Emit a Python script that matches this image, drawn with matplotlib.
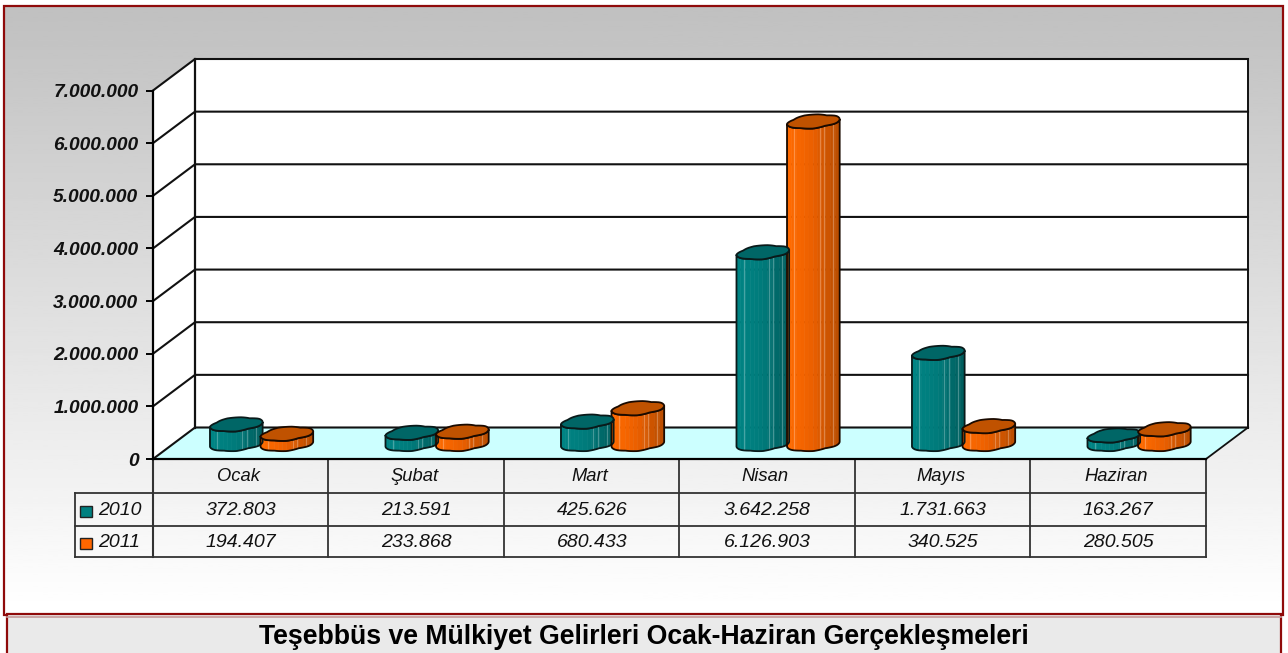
# -*- coding: utf-8 -*-
import numpy as np
import matplotlib
matplotlib.use('Agg')
import matplotlib.pyplot as plt
from matplotlib.patches import Polygon, Rectangle
from matplotlib.transforms import Affine2D, IdentityTransform

plt.rcParams['font.family'] = ['Liberation Sans', 'DejaVu Sans']

months = ['Ocak', 'Şubat', 'Mart', 'Nisan', 'Mayıs', 'Haziran']
years = ['2010', '2011']
values_2010 = [372803, 213591, 425626, 3642258, 1731663, 163267]
values_2011 = [194407, 233868, 680433, 6126903, 340525, 280505]
yticks = [0, 1000000, 2000000, 3000000, 4000000, 5000000, 6000000, 7000000]
title = 'Teşebbüs ve Mülkiyet Gelirleri Ocak-Haziran Gerçekleşmeleri'

W, H = 1288, 653
fig = plt.figure(figsize=(W / 100, H / 100), dpi=100)

# background layer in pixel coords (y down)
bg = fig.add_axes([0, 0, 1, 1])
bg.axis('off')

grad = np.linspace(0xc0, 0xff, 256).reshape(-1, 1) / 255.0
bg.imshow(grad, cmap='gray', vmin=0, vmax=1, extent=[4, 1283, 612, 6], aspect='auto', zorder=0)
bg.set_xlim(0, W)
bg.set_ylim(H, 0)
bg.add_patch(Rectangle((4, 6), 1279, 609, fill=False, ec='#8f0a0a', lw=1.6, zorder=1))
bg.add_patch(Rectangle((7, 614), 1274, 45, fc='#eaeaea', ec='#8f0a0a', lw=1.6, zorder=2))
bg.plot([7, 1281], [616.5, 616.5], color='#c49a9a', lw=1.2, zorder=3)
bg.text(644, 637, title, ha='center', va='center', fontsize=19.2, fontweight='bold', color='black', zorder=4)

# table
tx0, tx1, tx2 = 75, 153, 1206
ty0, ty1, ty2, ty3 = 459, 493, 526, 557
line_c = '#333333'
bg.plot([tx0, tx2], [ty1, ty1], color=line_c, lw=1.3)
bg.plot([tx0, tx2], [ty2, ty2], color=line_c, lw=1.3)
bg.plot([tx0, tx2], [ty3, ty3], color=line_c, lw=1.3)
bg.plot([tx0, tx0], [ty1, ty3], color=line_c, lw=1.3)
bg.plot([tx1, tx1], [ty0, ty3], color=line_c, lw=1.5)
cw = (tx2 - tx1) / len(months)
for i in range(1, len(months) + 1):
    bg.plot([tx1 + i * cw, tx1 + i * cw], [ty0, ty3], color=line_c, lw=1.3)
for i in range(len(months)):
    cx = tx1 + (i + 0.5) * cw
    bg.text(cx - 2, (ty0 + ty1) / 2 + 0.5, months[i], ha='center', va='center', style='italic', fontsize=13.2, color='#111111')
    bg.text(cx, (ty1 + ty2) / 2 + 1, f'{values_2010[i]:,}'.replace(',', '.'), ha='center', va='center', style='italic', fontsize=14, color='#111111')
    bg.text(cx, (ty2 + ty3) / 2 + 1, f'{values_2011[i]:,}'.replace(',', '.'), ha='center', va='center', style='italic', fontsize=14, color='#111111')

bg.add_patch(Rectangle((80, 506), 12, 11, fc='#008080', ec='#222222', lw=1))
bg.add_patch(Rectangle((80, 538), 12, 11, fc='#ff6600', ec='#222222', lw=1))
bg.text(98, (ty1 + ty2) / 2 + 1, years[0], ha='left', va='center', style='italic', fontsize=14, color='#111111')
bg.text(98, (ty2 + ty3) / 2 + 1, years[1], ha='left', va='center', style='italic', fontsize=14, color='#111111')

# chart axes = front plane of the 3D box
left, right, y0, ytop = 153, 1206, 459, 90.5
ax = fig.add_axes([left / W, 1 - y0 / H, (right - left) / W, (y0 - ytop) / H])
ax.patch.set_alpha(0)
ax.set_xlim(0, 6)
ax.set_ylim(0, 7000000)
for s in ['top', 'right']:
    ax.spines[s].set_visible(False)
for s in ['left', 'bottom']:
    ax.spines[s].set_linewidth(1.6)
    ax.spines[s].set_zorder(6)
ax.set_xticks([])
ax.set_yticks(yticks)
ax.set_yticklabels([f'{v:,}'.replace(',', '.') for v in yticks], fontsize=13.8, fontweight='bold', style='italic', color='#111111')
ax.tick_params(axis='y', length=5, width=1.4, pad=5.5)

# depth of the box, display pixels
DX, DY = 42, 31.5
back = ax.transData + Affine2D().translate(DX, DY)
ymax = yticks[-1]

pts_back = lambda x, y: back.transform((x, y))
pts_front = lambda x, y: ax.transData.transform((x, y))
ident = IdentityTransform()
wall = [pts_front(0, 0), pts_back(0, 0), pts_back(6, 0), pts_back(6, ymax), pts_back(0, ymax), pts_front(0, ymax)]
ax.add_patch(Polygon(wall, transform=ident, fc='white', ec='none', zorder=1, clip_on=False))
floor = [pts_front(0, 0), pts_front(6, 0), pts_back(6, 0), pts_back(0, 0)]
ax.add_patch(Polygon(floor, transform=ident, fc='#ccffff', ec='none', zorder=1.5, clip_on=False))

gc = '#111111'
for v in yticks:
    a, b, c = pts_front(0, v), pts_back(0, v), pts_back(6, v)
    ax.plot([a[0], b[0], c[0]], [a[1], b[1], c[1]], transform=ident, color=gc, lw=1.5, zorder=2, clip_on=False, solid_joinstyle='miter')
a, b = pts_back(0, 0), pts_back(0, ymax)
ax.plot([a[0], b[0]], [a[1], b[1]], transform=ident, color=gc, lw=1.6, zorder=2, clip_on=False)
a, b = pts_back(6, 0), pts_back(6, ymax)
ax.plot([a[0], b[0]], [a[1], b[1]], transform=ident, color=gc, lw=1.4, zorder=2, clip_on=False)
a, b = pts_front(6, 0), pts_back(6, 0)
ax.plot([a[0], b[0]], [a[1], b[1]], transform=ident, color=gc, lw=1.3, zorder=2, clip_on=False)

# cylinders
mid = ax.transData + Affine2D().translate(21, 15)
bar_w = 0.30
EB, TILT = 6.8, -0.09
# small lumps so the caps are not perfect ellipses, like the source bitmap
lump_t = np.radians([0, 25, 55, 80, 110, 145, 180, 205, 240, 270, 300, 335, 360])
lump_r = np.array([1.0, 1.06, 0.88, 1.0, 1.06, 0.9, 1.0, 1.06, 0.94, 1.04, 0.9, 1.08, 1.0])


def arc(cx, cy, a, t):
    r = np.interp(np.mod(t, 2 * np.pi), lump_t, lump_r)
    xs = cx + a * np.cos(t) * np.minimum(r, 1.0)
    ys = cy + EB * np.sin(t) * r - TILT * (xs - cx)
    return xs, ys


def cylinder(xl, value, cols, top_col, line_col):
    pl = mid.transform((xl, 0))
    pr = mid.transform((xl + bar_w, 0))
    ptop = mid.transform((xl, value))
    a = (pr[0] - pl[0]) / 2
    cx = (pl[0] + pr[0]) / 2
    base_y, top_y = pl[1], ptop[1]
    # front half of the caps is the lower half on screen (display y goes up)
    n = len(cols)
    edges = np.pi + np.arccos(1 - 2 * np.linspace(0, 1, n + 1))
    for k in range(n):
        t = np.linspace(edges[k], edges[k + 1], 6)
        xb, yb = arc(cx, base_y, a, t)
        xt, yt = arc(cx, top_y, a, t[::-1])
        poly = np.column_stack([np.r_[xb, xt], np.r_[yb, yt]])
        ax.add_patch(Polygon(poly, transform=ident, fc=cols[k], ec=cols[k], lw=0.4, zorder=3, clip_on=False))
    # pale vertical streaks
    for f in [0.14, 0.62, 0.72, 0.87]:
        t = np.pi + np.arccos(1 - 2 * f)
        xb, yb = arc(cx, base_y, a, np.array([t]))
        xt, yt = arc(cx, top_y, a, np.array([t]))
        ax.plot([xb[0], xt[0]], [yb[0], yt[0]], transform=ident, color='white', alpha=0.28, lw=0.9, zorder=3.1, clip_on=False)
    # outline of side
    t = np.linspace(np.pi, 2 * np.pi, 40)
    xb, yb = arc(cx, base_y, a, t)
    xt, yt = arc(cx, top_y, a, t[::-1])
    ax.add_patch(Polygon(np.column_stack([np.r_[xb, xt], np.r_[yb, yt]]), transform=ident, fc='none', ec=line_col, lw=1.3, zorder=3.2, clip_on=False))
    # cap
    t = np.linspace(0, 2 * np.pi, 60)
    xt, yt = arc(cx, top_y, a, t)
    ax.add_patch(Polygon(np.column_stack([xt, yt]), transform=ident, fc=top_col, ec=line_col, lw=1.3, zorder=3.3, clip_on=False))


def shades(c1, c2, c3, n=12):
    c1, c2, c3 = [np.array(matplotlib.colors.to_rgb(c)) for c in (c1, c2, c3)]
    out = []
    for k in range(n):
        f = k / (n - 1)
        out.append(tuple(c1 + (c2 - c1) * f * 2 if f < 0.5 else c2 + (c3 - c2) * (f - 0.5) * 2))
    return out


teal = shades('#008484', '#007a7a', '#005f5f')
orange = shades('#ff6a00', '#ea5f00', '#bc4e00')
for i in range(len(months)):
    cylinder(i + 0.205, values_2010[i], teal, '#006666', '#0a1a1a')
    cylinder(i + 0.493, values_2011[i], orange, '#c05200', '#1a0a00')

fig.savefig('out.png', dpi=100)
